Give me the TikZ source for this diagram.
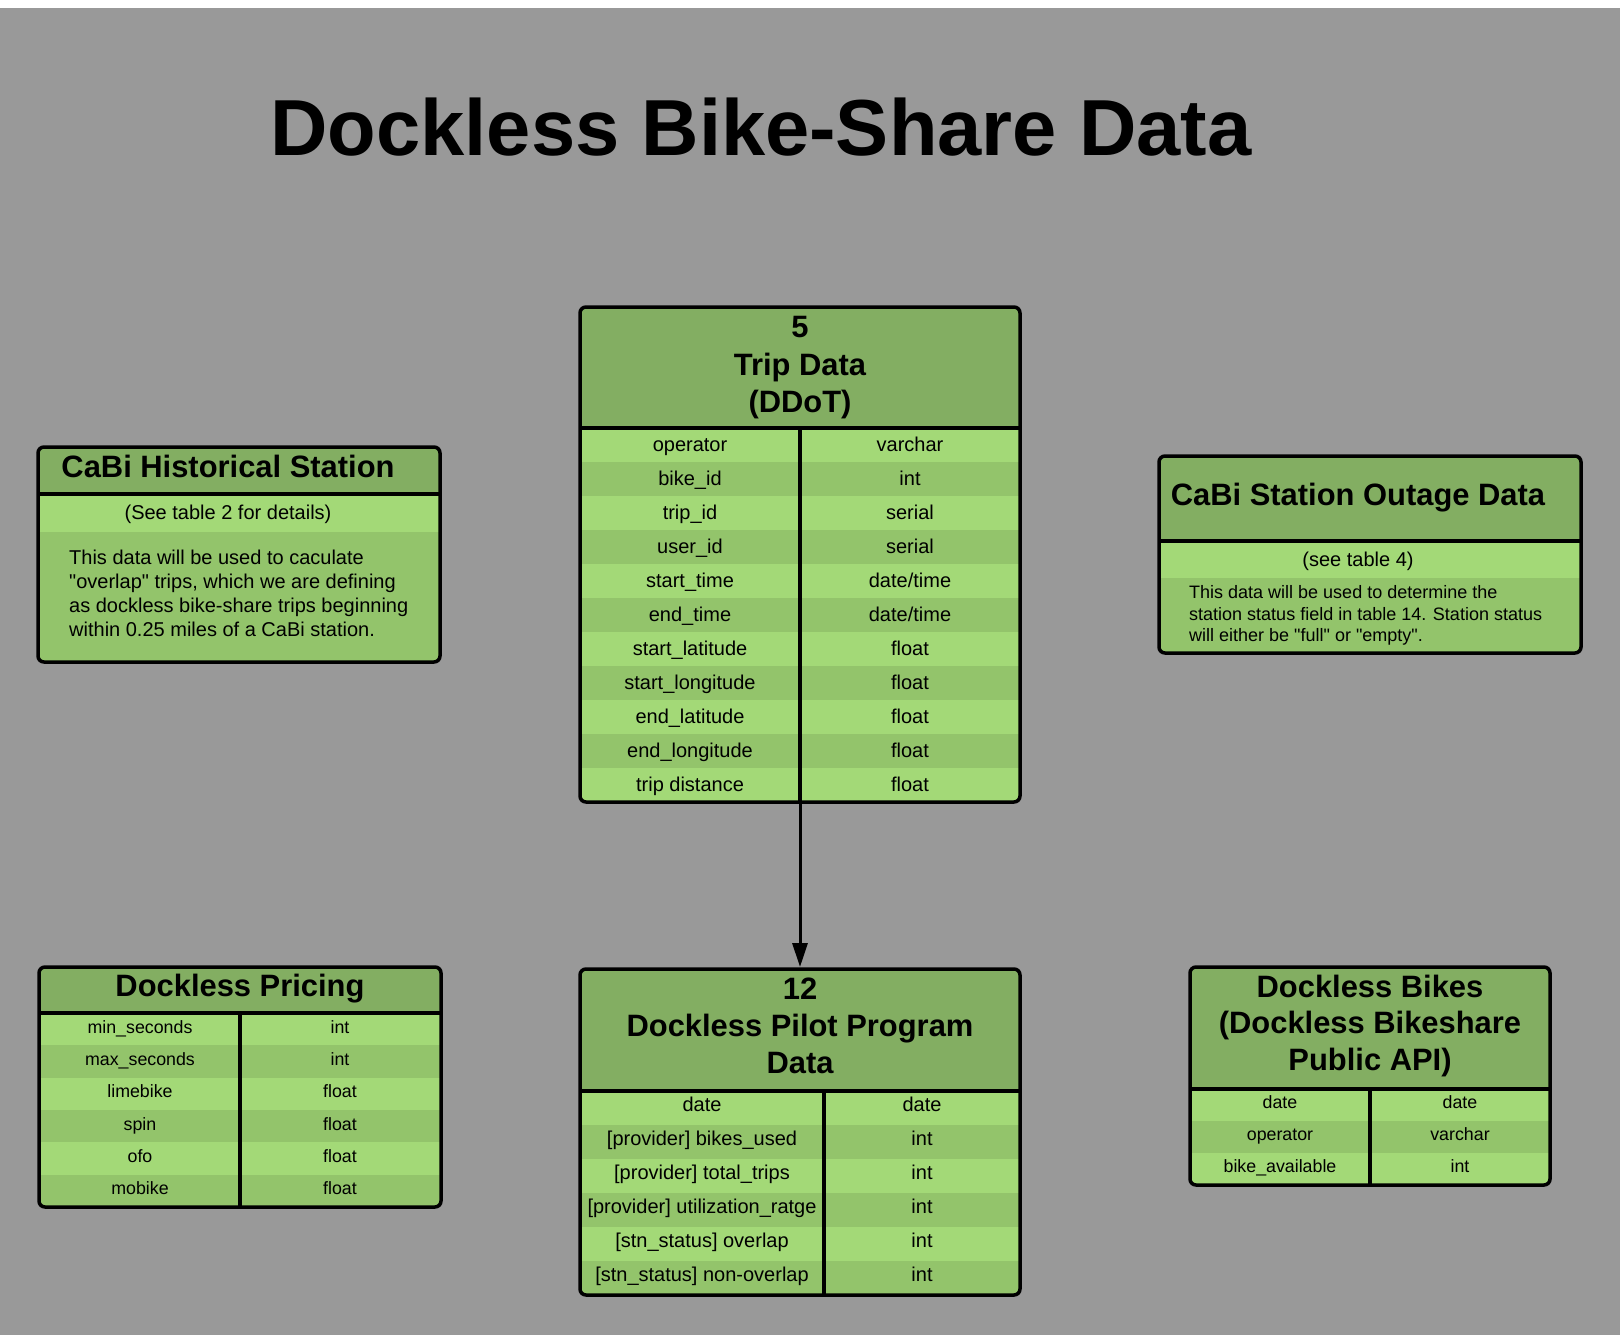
\documentclass[tikz,border=0pt]{standalone}
\usepackage{fontspec}
\setmainfont{Liberation Sans}
\usetikzlibrary{arrows.meta}
\definecolor{bgc}{RGB}{153,153,153}
\definecolor{hdr}{RGB}{131,174,98}
\definecolor{rowA}{RGB}{163,217,119}
\definecolor{rowB}{RGB}{147,196,107}
\begin{document}
\begin{tikzpicture}[x=1pt,y=-1pt,
  boxbg/.style={rectangle,fill=hdr,rounded corners=6pt,inner sep=0pt,outer sep=0pt},
  border/.style={draw=black,line width=3.5pt,rounded corners=6pt},
  sepline/.style={draw=black,line width=3.5pt},
  cellL/.style={anchor=base,inner sep=0pt,font=\fontsize{20}{24}\selectfont},
  cellS/.style={anchor=base,inner sep=0pt,font=\fontsize{17.8}{21}\selectfont},
  hdrtxt/.style={anchor=base,inner sep=0pt,font=\bfseries\fontsize{30.9}{36}\selectfont},
  bodyL/.style={anchor=base west,inner sep=0pt,font=\fontsize{20}{24}\selectfont},
  bodyS/.style={anchor=base west,inner sep=0pt,font=\fontsize{18}{22}\selectfont},
  link/.style={draw=black,line width=3pt,-{Triangle[length=24pt,width=15pt]}}
]
\useasboundingbox (0,0) rectangle (1620,1335);
\fill[white] (0,0) rectangle (1620,1335);
\fill[bgc] (0,8) rectangle (1620,1335);

% Title
\node[anchor=base,inner sep=0pt,font=\bfseries\fontsize{79.5}{90}\selectfont] (title) at (761,156) {Dockless Bike-Share Data};

% ---------- CaBi Historical Station ----------
\node[boxbg,minimum width=402pt,minimum height=215pt] (hist) at (239,554.5) {};
\begin{scope}
\clip[rounded corners=6pt] (hist.north west) rectangle (hist.south east);
\fill[rowA] (38,494) rectangle (440,532);
\fill[rowB] (38,532) rectangle (440,662);
\end{scope}
\draw[sepline] (38,494) -- (440,494);
\draw[border] (hist.north west) rectangle (hist.south east);
\node[hdrtxt] (histT) at (228,477) {CaBi Historical Station};
\node[cellL] (histS) at (228,519) {(See table 2 for details)};
\node[bodyL] (histB1) at (69,564) {This data will be used to caculate};
\node[bodyL] (histB2) at (69,588) {\textquotedbl overlap\textquotedbl{} trips, which we are defining};
\node[bodyL] (histB3) at (69,612) {as dockless bike-share trips beginning};
\node[bodyL] (histB4) at (69,636) {within 0.25 miles of a CaBi station.};

% ---------- CaBi Station Outage Data ----------
\node[boxbg,minimum width=422pt,minimum height=197pt] (outage) at (1370,554.5) {};
\begin{scope}
\clip[rounded corners=6pt] (outage.north west) rectangle (outage.south east);
\fill[rowA] (1159,541) rectangle (1581,578);
\fill[rowB] (1159,578) rectangle (1581,653);
\end{scope}
\draw[sepline] (1159,541) -- (1581,541);
\draw[border] (outage.north west) rectangle (outage.south east);
\node[hdrtxt] (outT) at (1358,505) {CaBi Station Outage Data};
\node[cellL] (outS) at (1358,566) {(see table 4)};
\node[bodyS] (outB1) at (1189,598) {This data will be used to determine the};
\node[bodyS] (outB2) at (1189,620) {station status field in table 14. Station status};
\node[bodyS] (outB3) at (1189,641) {will either be \textquotedbl full\textquotedbl{} or \textquotedbl empty\textquotedbl.};

% ---------- Trip Data ----------
\node[boxbg,minimum width=440pt,minimum height=495pt] (trip) at (800,554.5) {};
\begin{scope}
\clip[rounded corners=6pt] (trip.north west) rectangle (trip.south east);
\foreach \i in {0,...,10} {
  \ifodd\i \fill[rowB] (580,{428+34*\i}) rectangle (1020,{462+34*\i});
  \else \fill[rowA] (580,{428+34*\i}) rectangle (1020,{462+34*\i}); \fi
}
\end{scope}
\draw[sepline] (580,428) -- (1020,428);
\draw[sepline] (800,428) -- (800,802);
\draw[border] (trip.north west) rectangle (trip.south east);
\node[hdrtxt] (tripT1) at (800,337) {5};
\node[hdrtxt] (tripT2) at (800,375) {Trip Data};
\node[hdrtxt] (tripT3) at (800,412) {(DDoT)};
\foreach \i/\a/\b in {0/operator/varchar,1/bike\_id/int,2/trip\_id/serial,3/user\_id/serial,
  4/start\_time/date\slash time,5/end\_time/date\slash time,6/start\_latitude/float,
  7/start\_longitude/float,8/end\_latitude/float,9/end\_longitude/float,10/trip distance/float} {
  \node[cellL] (trip-a-\i) at (690,{451.5+34*\i}) {\a};
  \node[cellL] (trip-b-\i) at (910,{451.5+34*\i}) {\b};
}

% ---------- Dockless Pricing ----------
\node[boxbg,minimum width=402pt,minimum height=240pt] (price) at (240,1087) {};
\begin{scope}
\clip[rounded corners=6pt] (price.north west) rectangle (price.south east);
\foreach \i in {0,...,5} {
  \ifodd\i \fill[rowB] (39,{1013+32.33*\i}) rectangle (441,{1045.33+32.33*\i});
  \else \fill[rowA] (39,{1013+32.33*\i}) rectangle (441,{1045.33+32.33*\i}); \fi
}
\end{scope}
\draw[sepline] (39,1013) -- (441,1013);
\draw[sepline] (240,1013) -- (240,1207);
\draw[border] (price.north west) rectangle (price.south east);
\node[hdrtxt] (priceT) at (240,996) {Dockless Pricing};
\foreach \i/\a/\b in {0/min\_seconds/int,1/max\_seconds/int,2/limebike/float,3/spin/float,4/ofo/float,5/mobike/float} {
  \node[cellS] (price-a-\i) at (140,{1033+32.33*\i}) {\a};
  \node[cellS] (price-b-\i) at (340,{1033+32.33*\i}) {\b};
}

% ---------- Dockless Pilot Program Data ----------
\node[boxbg,minimum width=440pt,minimum height=326pt] (pilot) at (800,1132) {};
\begin{scope}
\clip[rounded corners=6pt] (pilot.north west) rectangle (pilot.south east);
\foreach \i in {0,...,5} {
  \ifodd\i \fill[rowB] (580,{1091+34*\i}) rectangle (1020,{1125+34*\i});
  \else \fill[rowA] (580,{1091+34*\i}) rectangle (1020,{1125+34*\i}); \fi
}
\end{scope}
\draw[sepline] (580,1091) -- (1020,1091);
\draw[sepline] (824,1091) -- (824,1295);
\draw[border] (pilot.north west) rectangle (pilot.south east);
\node[hdrtxt] (pilotT1) at (800,999) {12};
\node[hdrtxt] (pilotT2) at (800,1036) {Dockless Pilot Program};
\node[hdrtxt] (pilotT3) at (800,1073) {Data};
\foreach \i/\a/\b in {0/date/date,1/[provider] bikes\_used/int,2/[provider] total\_trips/int,
  3/[provider] utilization\_ratge/int,4/[stn\_status] overlap/int,5/[stn\_status] non-overlap/int} {
  \node[cellL] (pilot-a-\i) at (702,{1111+34*\i}) {\a};
  \node[cellL] (pilot-b-\i) at (922,{1111+34*\i}) {\b};
}

% ---------- Dockless Bikes ----------
\node[boxbg,minimum width=360pt,minimum height=218pt] (bikes) at (1370,1076) {};
\begin{scope}
\clip[rounded corners=6pt] (bikes.north west) rectangle (bikes.south east);
\foreach \i in {0,...,2} {
  \ifodd\i \fill[rowB] (1190,{1089+32*\i}) rectangle (1550,{1121+32*\i});
  \else \fill[rowA] (1190,{1089+32*\i}) rectangle (1550,{1121+32*\i}); \fi
}
\end{scope}
\draw[sepline] (1190,1089) -- (1550,1089);
\draw[sepline] (1370,1089) -- (1370,1185);
\draw[border] (bikes.north west) rectangle (bikes.south east);
\node[hdrtxt] (bikesT1) at (1370,997) {Dockless Bikes};
\node[hdrtxt] (bikesT2) at (1370,1033) {(Dockless Bikeshare};
\node[hdrtxt] (bikesT3) at (1370,1070) {Public API)};
\foreach \i/\a/\b in {0/date/date,1/operator/varchar,2/bike\_available/int} {
  \node[cellS] (bikes-a-\i) at (1280,{1108.5+32*\i}) {\a};
  \node[cellS] (bikes-b-\i) at (1460,{1108.5+32*\i}) {\b};
}

% ---------- Connector ----------
\draw[link,shorten >=2pt] (trip.south) -- (pilot.north);
\end{tikzpicture}
\end{document}
